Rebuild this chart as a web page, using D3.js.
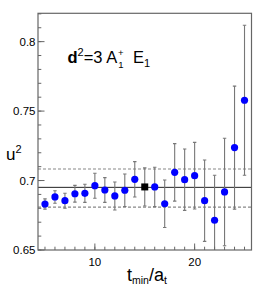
<!DOCTYPE html>
<html><head><meta charset="utf-8">
<script src="https://cdn.jsdelivr.net/npm/d3@7"></script>
<style>body{margin:0;background:#fff}text{font-family:"Liberation Sans",Arial,sans-serif}</style>
</head><body><svg id="c" width="266" height="297"></svg>
<script>
const tmin = [5,6,7,8,9,10,11,12,13,14,15,16,17,18,19,20,21,22,23,24,25];
const u2 = [0.6831,0.6882,0.6855,0.6905,0.6908,0.6963,0.6932,0.6889,0.6930,0.7009,0.6954,0.6954,0.6833,0.7059,0.7006,0.7035,0.6855,0.6714,0.6918,0.7237,0.7578];
const u2err = [0.0037,0.0045,0.0054,0.0060,0.0065,0.0090,0.0089,0.0101,0.0117,0.0127,0.0137,0.0142,0.0171,0.0207,0.0221,0.0240,0.0293,0.0324,0.0387,0.0443,0.0540];
const chosenT = 15;
const fitValue = [0.6951];
const fitBand = [0.6808, 0.7083];
const yTickLabels = ["0.65","0.7","0.75","0.8"];
const xTickLabels = ["10","20"];

const L=38, R=251.5, T=13.3, B=250;
const svg = d3.select("#c");
const x = d3.scaleLinear().domain([4.3,25.7]).range([L,R]);
const y = d3.scaleLinear().domain([0.65,0.8204]).range([B,T]);

const defs = svg.append("defs");
defs.append("clipPath").attr("id","clip").append("rect").attr("x",L).attr("y",T).attr("width",R-L).attr("height",B-T);

const g = svg.append("g").attr("clip-path","url(#clip)");
g.selectAll("line.band").data(fitBand).enter().append("line")
  .attr("x1",L).attr("x2",R).attr("y1",d=>y(d)).attr("y2",d=>y(d))
  .attr("stroke","#888").attr("stroke-width",1.2).attr("stroke-dasharray","3,2");
g.selectAll("line.fit").data(fitValue).enter().append("line")
  .attr("x1",L).attr("x2",R).attr("y1",d=>y(d)).attr("y2",d=>y(d))
  .attr("stroke","#222").attr("stroke-width",1);

const data = tmin.map((t,i)=>({t, v:u2[i], e:u2err[i]}));
const eb = g.selectAll("g.eb").data(data).enter().append("g").attr("stroke","#777").attr("stroke-width",1.1);
eb.append("line").attr("x1",d=>x(d.t)).attr("x2",d=>x(d.t)).attr("y1",d=>y(d.v-d.e)).attr("y2",d=>y(d.v+d.e));
eb.append("line").attr("x1",d=>x(d.t)-1.7).attr("x2",d=>x(d.t)+1.7).attr("y1",d=>y(d.v-d.e)).attr("y2",d=>y(d.v-d.e));
eb.append("line").attr("x1",d=>x(d.t)-1.7).attr("x2",d=>x(d.t)+1.7).attr("y1",d=>y(d.v+d.e)).attr("y2",d=>y(d.v+d.e));

g.selectAll("circle").data(data.filter(d=>d.t!==chosenT)).enter().append("circle")
  .attr("cx",d=>x(d.t)).attr("cy",d=>y(d.v)).attr("r",3.6).attr("fill","#0000ff");
g.selectAll("rect.sq").data(data.filter(d=>d.t===chosenT)).enter().append("rect")
  .attr("x",d=>x(d.t)-3.5).attr("y",d=>y(d.v)-3.5).attr("width",7).attr("height",7).attr("fill","#000");

svg.append("rect").attr("x",L).attr("y",T).attr("width",R-L).attr("height",B-T)
  .attr("fill","none").attr("stroke","#666").attr("stroke-width",1.2);

const yMinor = d3.range(0.65,0.8201,0.01);
svg.selectAll("line.ymin").data(yMinor).enter().append("line")
  .attr("x1",L).attr("x2",L+3.3).attr("y1",d=>y(d)).attr("y2",d=>y(d)).attr("stroke","#666");
svg.selectAll("line.ymaj").data(yTickLabels).enter().append("line")
  .attr("x1",L).attr("x2",L+6.5).attr("y1",d=>y(+d)).attr("y2",d=>y(+d)).attr("stroke","#666");
svg.selectAll("text.yl").data(yTickLabels).enter().append("text")
  .attr("x",L-2.5).attr("y",d=>y(+d)+4).attr("text-anchor","end").attr("font-size",11.5).attr("fill","#000").text(d=>d);

const xMinor = d3.range(5,26,1);
svg.selectAll("line.xmin").data(xMinor).enter().append("line")
  .attr("x1",d=>x(d)).attr("x2",d=>x(d)).attr("y1",B).attr("y2",B-3.3).attr("stroke","#666");
svg.selectAll("line.xmaj").data(xTickLabels).enter().append("line")
  .attr("x1",d=>x(+d)).attr("x2",d=>x(+d)).attr("y1",B).attr("y2",B-6.5).attr("stroke","#666");
svg.selectAll("text.xl").data(xTickLabels).enter().append("text")
  .attr("x",d=>x(+d)).attr("y",B+15.5).attr("text-anchor","middle").attr("font-size",11.5).attr("fill","#000").text(d=>d);

const yt = svg.append("text").attr("x",6).attr("y",160).attr("font-size",17).attr("fill","#000");
yt.append("tspan").text("u");
yt.append("tspan").attr("font-size",11).attr("dy",-7).text("2");

const xt = svg.append("text").attr("x",127).attr("y",281).attr("font-size",18).attr("fill","#000");
xt.append("tspan").text("t");
xt.append("tspan").attr("font-size",10.5).attr("dy",3).text("min");
xt.append("tspan").attr("dy",-3).text("/a");
xt.append("tspan").attr("font-size",10.5).attr("dy",3).text("t");

// label: main part, then stacked super/subscripts placed after it
const lab = svg.append("text").attr("x",67.5).attr("y",63).attr("font-size",16.5).attr("fill","#000");
lab.append("tspan").attr("font-weight","bold").text("d");
lab.append("tspan").attr("font-size",11).attr("dy",-7).text("2");
lab.append("tspan").attr("dy",7).text("=3 A");
const bb = lab.node().getBBox();
const sx = bb.x + bb.width + 0.8;
svg.append("text").attr("x",sx).attr("y",55.5).attr("font-size",9.5).attr("fill","#000").text("+");
svg.append("text").attr("x",sx+0.3).attr("y",68).attr("font-size",9.5).attr("fill","#000").text("1");
const lab2 = svg.append("text").attr("x",sx+15).attr("y",63).attr("font-size",16.5).attr("fill","#000");
lab2.append("tspan").text("E");
lab2.append("tspan").attr("font-size",11).attr("dy",4).text("1");
</script></body></html>
